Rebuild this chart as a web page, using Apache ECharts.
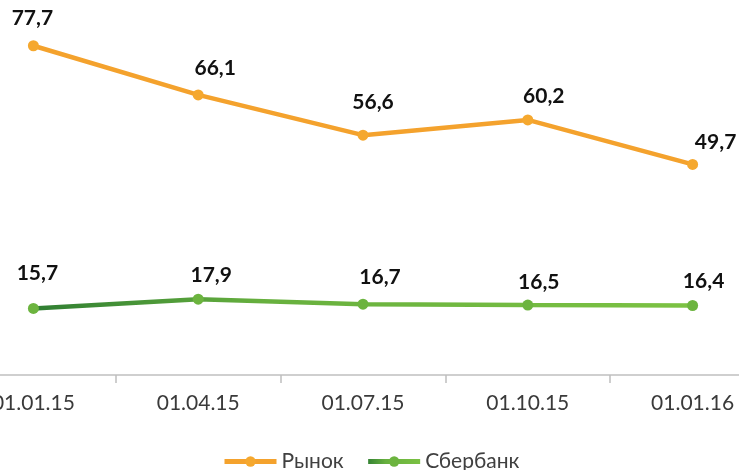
<!DOCTYPE html>
<html lang="ru">
<head>
    <meta charset="UTF-8">
    <script type="text/javascript" src="https://cdn.jsdelivr.net/npm/echarts@6.0.0/dist/echarts.min.js"></script>
    <style>
        html, body {
            margin: 0;
            overflow: hidden;
            background: #fff;
        }
        /* chart is wider than the window: the reference crops both ends */
        #viewport {
            position: absolute;
            left: -49px;
            top: 0px;
            width: 824px;
            height: 470px;
        }
    </style>
</head>
<body>
<div id="viewport"></div>
<script>
    var dates = ['01.01.15', '01.04.15', '01.07.15', '01.10.15', '01.01.16'];
    var market = [77.7, 66.1, 56.6, 60.2, 49.7];
    var sber = [15.7, 17.9, 16.7, 16.5, 16.4];

    // label offsets (px from point centre)
    var marketLabelShift = [[-1, -28], [17, -27], [10, -33], [16, -24], [23, -22]];
    var sberLabelShift = [[4, -35], [13, -24], [17, -27], [11, -23], [11, -24]];

    function withLabels(values, shifts) {
        return values.map(function (v, i) {
            return {value: v, label: {offset: shifts[i]}};
        });
    }

    var labelStyle = {
        show: true,
        position: 'inside',
        fontFamily: 'Lato',
        fontWeight: 'bold',
        fontSize: 21,
        color: '#111',
        formatter: function (p) {
            return String(p.value).replace('.', ',');
        }
    };

    var myChart = echarts.init(document.getElementById('viewport'));

    var option = {
        animation: false,
        grid: {left: 0, right: 0, top: 36, bottom: 95},
        legend: {
            top: 446,
            left: 266,
            itemWidth: 52,
            itemHeight: 13,
            itemGap: 22,
            lineStyle: {width: 5},
            textStyle: {fontFamily: 'Lato, "Open Sans"', fontSize: 21, color: '#404040'},
            data: ['Рынок', 'Сбербанк']
        },
        xAxis: {
            type: 'category',
            data: dates,
            boundaryGap: true,
            axisLine: {lineStyle: {color: '#bfbfbf', width: 1.5}},
            axisTick: {show: true, length: 8, lineStyle: {color: '#bfbfbf', width: 1.5}},
            axisLabel: {margin: 18, fontFamily: 'Lato', fontSize: 21, color: '#3a3a3a'}
        },
        yAxis: {
            type: 'value',
            min: 0,
            max: 80,
            show: false,
            splitLine: {show: false}
        },
        series: [
            {
                name: 'Рынок',
                type: 'line',
                data: withLabels(market, marketLabelShift),
                symbol: 'circle',
                symbolSize: 11,
                lineStyle: {color: '#f4a22d', width: 4.5},
                itemStyle: {color: '#f5a82f'},
                label: labelStyle
            },
            {
                name: 'Сбербанк',
                type: 'line',
                data: withLabels(sber, sberLabelShift),
                symbol: 'circle',
                symbolSize: 11,
                lineStyle: {
                    width: 4.5,
                    color: new echarts.graphic.LinearGradient(0, 0, 1, 0, [
                        {offset: 0, color: '#2e7d32'},
                        {offset: 0.35, color: '#67b03e'},
                        {offset: 1, color: '#7cc243'}
                    ])
                },
                itemStyle: {color: '#6cb43f'},
                label: labelStyle
            }
        ]
    };

    myChart.setOption(option);
</script>
</body>
</html>
